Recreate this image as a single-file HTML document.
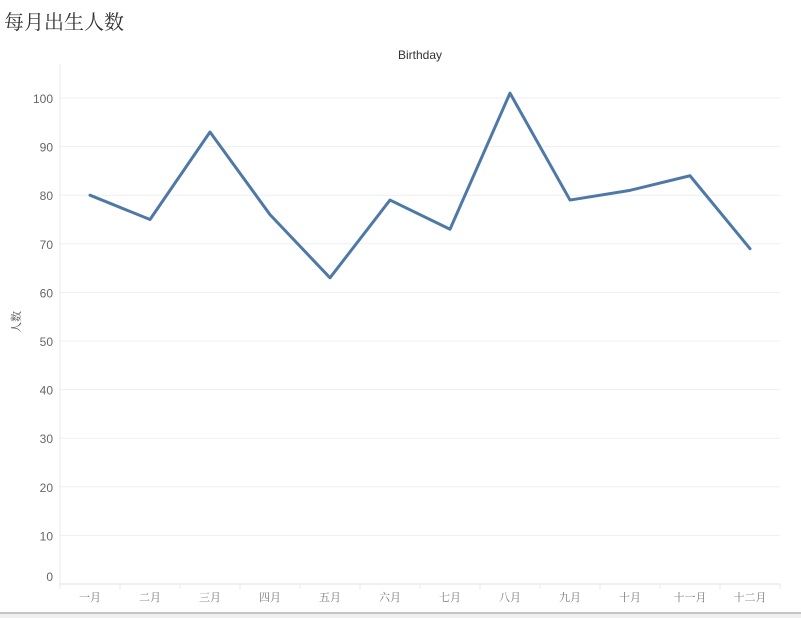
<!DOCTYPE html>
<html><head><meta charset="utf-8">
<style>
html,body{margin:0;padding:0;background:#fff;width:801px;height:618px;overflow:hidden;}
#title{position:absolute;left:4px;top:6px;font:20px "Liberation Serif","Noto Serif CJK SC",serif;color:#333;}
svg{position:absolute;left:0;top:0;}
</style></head>
<body>
<div id="title">每月出生人数</div>
<svg id="chart" width="801" height="618"></svg>
<script>
const categories=["一月","二月","三月","四月","五月","六月","七月","八月","九月","十月","十一月","十二月"];
const births=[80,75,93,76,63,79,73,101,79,81,84,69];
const yTicks=[0,10,20,30,40,50,60,70,80,90,100];
const svg=document.getElementById('chart');
const NS='http://www.w3.org/2000/svg';
const L=60,R=780,T=64,B=584,Y0=584,Y100=98;
const bw=(R-L)/categories.length;
const x=i=>L+bw*(i+0.5);
const y=v=>Y0+(Y100-Y0)*v/100;
function mk(t,a,p){const e=document.createElementNS(NS,t);for(const k in a)e.setAttribute(k,a[k]);(p||svg).appendChild(e);return e;}
const ct=mk('text',{x:420,y:59,'text-anchor':'middle','font-family':'Liberation Sans, sans-serif','font-size':12,fill:'#333'});
ct.textContent='Birthday';


yTicks.forEach(v=>{
  const g=mk('line',{x1:L,x2:R,y1:y(v),y2:y(v),stroke:'#efefef','stroke-width':1});
  
  
  const t=mk('text',{x:53,y:y(v)+(v===0?-3:5),'text-anchor':'end','font-family':'Liberation Sans, sans-serif','font-size':12,fill:'#666'});
  t.textContent=v;
  
  
});
mk('line',{x1:L,x2:L,y1:T,y2:B,stroke:'#e8e8e8'});
mk('line',{x1:L,x2:R,y1:B,y2:B,stroke:'#e0e0e0'});
categories.forEach((c,i)=>{
  const s=mk('line',{x1:L+bw*i,x2:L+bw*i,y1:B,y2:B+5,stroke:'#eaeaea'});
  
  
  const t=mk('text',{x:x(i),y:601,'text-anchor':'middle','font-family':'Liberation Serif, Noto Serif CJK SC, serif','font-size':11,fill:'#777'});
  t.textContent=c;
  
  
});
mk('line',{x1:R,x2:R,y1:B,y2:B+5,stroke:'#eaeaea'});
const yt=mk('text',{x:0,y:0,transform:'translate(20,322) rotate(-90)','text-anchor':'middle','font-family':'Liberation Serif, Noto Serif CJK SC, serif','font-size':11,fill:'#555'});
yt.textContent='人数';


const line=mk('polyline',{points:births.map((v,i)=>x(i)+','+y(v)).join(' '),fill:'none',stroke:'#4e79a7','stroke-width':3,'stroke-linejoin':'round','stroke-linecap':'round'});


const bar=mk('rect',{x:0,y:613,width:801,height:5,fill:'#f0f0f0'});


mk('line',{x1:0,x2:801,y1:613,y2:613,stroke:'#b5b5b5','stroke-width':1.5});
</script>
</body></html>
